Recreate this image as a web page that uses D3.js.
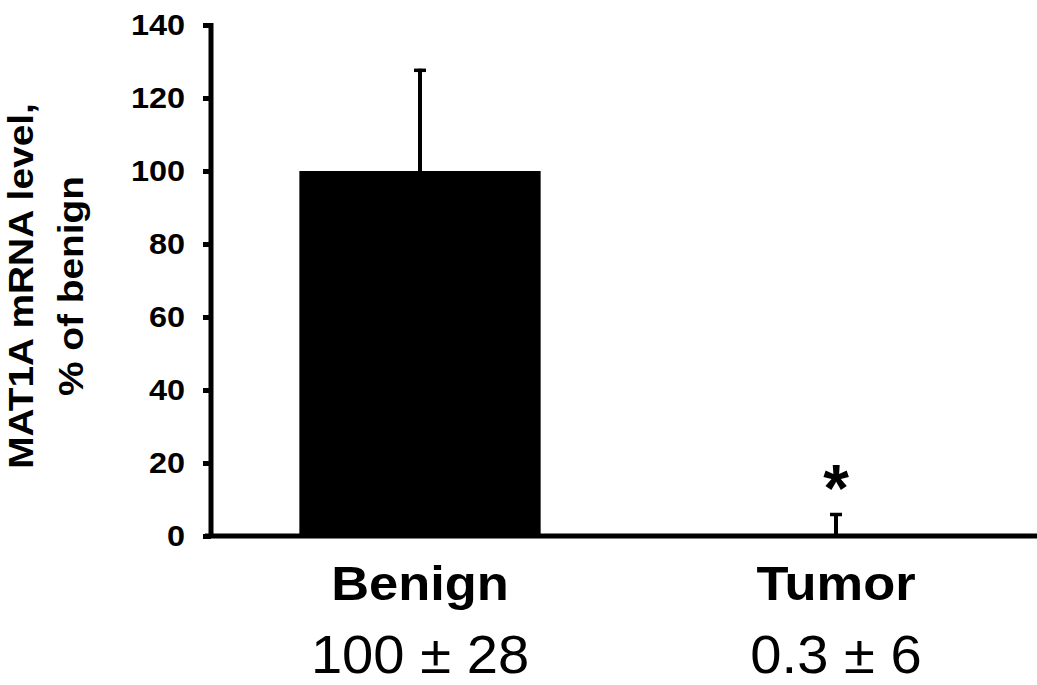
<!DOCTYPE html>
<html>
<head>
<meta charset="utf-8">
<script src="https://cdn.jsdelivr.net/npm/d3@7"></script>
<style>
  body { margin: 0; background: #fff; }
  svg { font-family: "Liberation Sans", Arial, sans-serif; }
</style>
</head>
<body>
<svg id="chart" width="1037" height="685"></svg>
<script>
// data
var categories = ["Benign", "Tumor"];
var means = [100, 0.3];
var errors = [28, 6];
var summaryLabels = ["100 \u00b1 28", "0.3 \u00b1 6"];
var significant = [false, true];
var yTicks = [0, 20, 40, 60, 80, 100, 120, 140];

var svg = d3.select("#chart");
var axisX = 211;

var y = d3.scaleLinear().domain([0, 140]).range([536, 25]);
var x = d3.scaleBand().domain(categories).range([212, 1044]).paddingInner(0.42).paddingOuter(0.21);
var cx = d => x(d) + x.bandwidth() / 2;

// y axis
var yAxis = svg.append("g")
    .attr("transform", "translate(" + axisX + ",0)")
    .call(d3.axisLeft(y).tickValues(yTicks).tickSize(8).tickPadding(18));
yAxis.select(".domain").remove();
yAxis.selectAll(".tick line").attr("stroke", "#000").attr("stroke-width", 5);
yAxis.selectAll(".tick text")
    .attr("font-size", 30).attr("font-weight", "bold").attr("fill", "#000")
    .attr("font-family", "'Liberation Sans', Arial, sans-serif")
    .attr("transform", "scale(1.08,1)")
    .attr("x", -26 / 1.08);

svg.append("line")
    .attr("x1", axisX).attr("x2", axisX)
    .attr("y1", y(140) - 2).attr("y2", y(0) + 2)
    .attr("stroke", "#000").attr("stroke-width", 5);

// bars
svg.selectAll("rect.bar")
    .data(categories)
    .enter().append("rect")
    .attr("class", "bar")
    .attr("x", d => x(d))
    .attr("width", x.bandwidth())
    .attr("y", (d, i) => y(means[i]))
    .attr("height", (d, i) => y(0) - y(means[i]))
    .attr("fill", "#000");

// error bars (upper only)
var err = svg.selectAll("g.err")
    .data(categories)
    .enter().append("g")
    .attr("class", "err");
err.append("line")
    .attr("x1", cx).attr("x2", cx)
    .attr("y1", (d, i) => y(means[i]))
    .attr("y2", (d, i) => y(means[i] + errors[i]))
    .attr("stroke", "#000").attr("stroke-width", 4);
err.append("line")
    .attr("x1", d => cx(d) - 6)
    .attr("x2", d => cx(d) + 6)
    .attr("y1", (d, i) => y(means[i] + errors[i]) + 1.5)
    .attr("y2", (d, i) => y(means[i] + errors[i]) + 1.5)
    .attr("stroke", "#000").attr("stroke-width", 3.5);

// significance star
svg.selectAll("text.star")
    .data(categories.filter((d, i) => significant[i]))
    .enter().append("text")
    .attr("class", "star")
    .attr("x", cx)
    .attr("y", d => y(means[categories.indexOf(d)] + errors[categories.indexOf(d)]) - 2)
    .attr("text-anchor", "middle")
    .attr("font-size", 66).attr("font-weight", "bold")
    .text("*");

// x axis baseline
svg.append("line")
    .attr("x1", axisX - 6).attr("x2", 1037)
    .attr("y1", y(0)).attr("y2", y(0))
    .attr("stroke", "#000").attr("stroke-width", 5);

// category labels
svg.selectAll("text.cat")
    .data(categories)
    .enter().append("text")
    .attr("class", "cat")
    .attr("transform", d => "translate(" + cx(d) + ",600) scale(1.07,1)")
    .attr("text-anchor", "middle")
    .attr("font-size", 49).attr("font-weight", "bold")
    .text(d => d);

svg.selectAll("text.sum")
    .data(summaryLabels)
    .enter().append("text")
    .attr("class", "sum")
    .attr("transform", (d, i) => "translate(" + cx(categories[i]) + ",673) scale(1.06,1)")
    .attr("text-anchor", "middle")
    .attr("font-size", 53)
    .text(d => d);

// y label
var yl = svg.append("text")
    .attr("transform", "translate(33,286) rotate(-90) scale(1.08,1)")
    .attr("text-anchor", "middle")
    .attr("font-size", 36).attr("font-weight", "bold");
yl.append("tspan").attr("x", 0).attr("dy", 0).text("MAT1A mRNA level,");
yl.append("tspan").attr("x", 0).attr("dy", 50).text("% of benign");
</script>
</body>
</html>
